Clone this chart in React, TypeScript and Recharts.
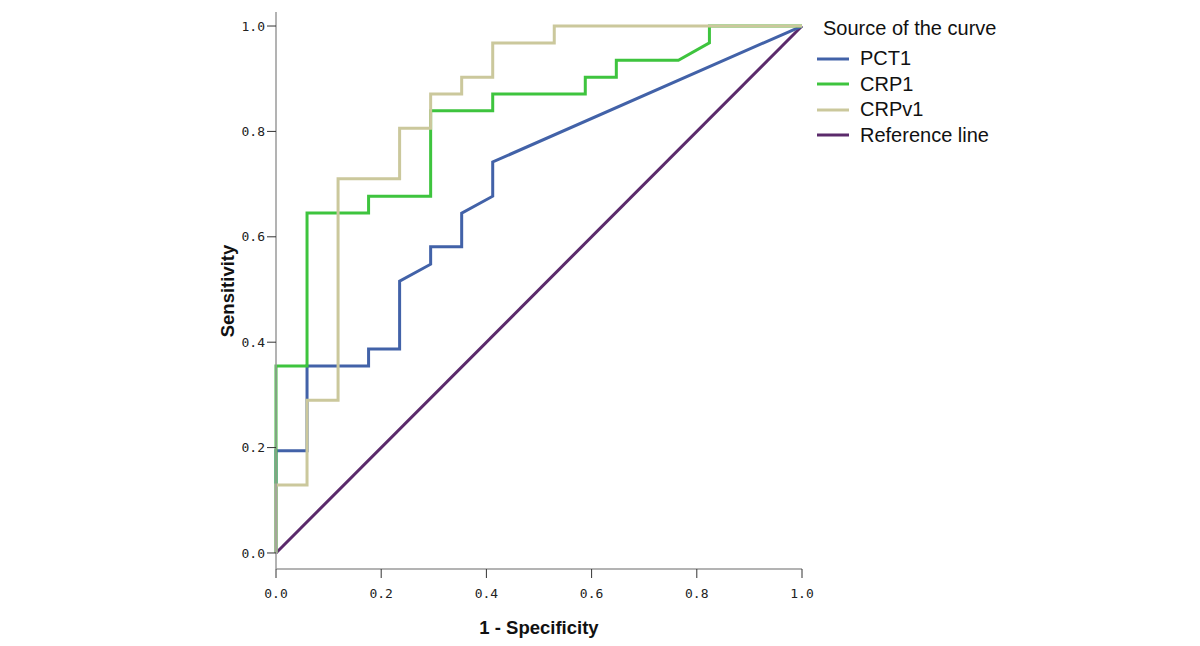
import { LineChart, Line, XAxis, YAxis, Legend, Label } from 'recharts';

// 1 - specificity / sensitivity pairs
const pctFpr = [0, 0, 0.059, 0.059, 0.176, 0.176, 0.235, 0.235, 0.294, 0.294, 0.353, 0.353, 0.412, 0.412, 1];
const pctTpr = [0, 0.194, 0.194, 0.355, 0.355, 0.387, 0.387, 0.516, 0.548, 0.581, 0.581, 0.645, 0.677, 0.742, 1];

const crpFpr = [0, 0, 0.059, 0.059, 0.176, 0.176, 0.294, 0.294, 0.412, 0.412, 0.588, 0.588, 0.647, 0.647, 0.765, 0.824, 0.824, 1];
const crpTpr = [0, 0.355, 0.355, 0.645, 0.645, 0.677, 0.677, 0.839, 0.839, 0.871, 0.871, 0.903, 0.903, 0.935, 0.935, 0.968, 1, 1];

const crpvFpr = [0, 0, 0.059, 0.059, 0.118, 0.118, 0.235, 0.235, 0.294, 0.294, 0.353, 0.353, 0.412, 0.412, 0.529, 0.529, 1];
const crpvTpr = [0, 0.129, 0.129, 0.29, 0.29, 0.71, 0.71, 0.806, 0.806, 0.871, 0.871, 0.903, 0.903, 0.968, 0.968, 1, 1];

const refFpr = [0, 1];
const refTpr = [0, 1];

const TICKS = [0, 0.2, 0.4, 0.6, 0.8, 1.0];

const SERIES = [
  { name: 'PCT1', color: '#4262a8' },
  { name: 'CRP1', color: '#3ec43e' },
  { name: 'CRPv1', color: '#cbc89c' },
  { name: 'Reference line', color: '#5b2a6b' },
];

const toPoints = (xs: number[], ys: number[]) => xs.map((x, i) => ({ x, y: ys[i] }));

const pctData = toPoints(pctFpr, pctTpr);
const crpData = toPoints(crpFpr, crpTpr);
const crpvData = toPoints(crpvFpr, crpvTpr);
const refData = toPoints(refFpr, refTpr);

const tickFont = { fontFamily: 'DejaVu Sans Mono', fontSize: 13, fill: '#222' };
const labelFont = { fontFamily: 'Liberation Sans, Arial, sans-serif', fontWeight: 'bold', fontSize: 18.5, fill: '#111' };

const LegendBox = () => (
  <div style={{ fontFamily: 'Liberation Sans, Arial, sans-serif', color: '#111', textAlign: 'left' }}>
    <div style={{ fontSize: 20, lineHeight: '24px', marginLeft: 6, marginBottom: 6 }}>Source of the curve</div>
    {SERIES.map((s) => (
      <div key={s.name} style={{ display: 'flex', alignItems: 'center', height: 25.5, fontSize: 20 }}>
        <svg width={32} height={6} style={{ marginRight: 11 }}>
          <line x1={0} y1={3} x2={32} y2={3} stroke={s.color} strokeWidth={3} />
        </svg>
        <span>{s.name}</span>
      </div>
    ))}
  </div>
);

export default function App() {
  return (
    <div style={{ position: 'absolute', left: 0, top: 0, width: 1200, height: 646, background: '#fff' }}>
      <LineChart width={1200} height={646} margin={{ top: 12, right: 398, bottom: 47, left: 216 }}>
        <XAxis
          dataKey="x"
          type="number"
          domain={[0, 1]}
          ticks={TICKS}
          tickFormatter={(v: number) => v.toFixed(1)}
          height={30}
          axisLine={{ stroke: '#9a9a9a', strokeWidth: 1.5 }}
          tickLine={{ stroke: '#333' }}
          tickSize={9}
          tickMargin={11}
          tick={tickFont}
        >
          <Label
            content={({ viewBox }: any) => (
              <text x={viewBox.x + viewBox.width / 2} y={viewBox.y + 65} textAnchor="middle" style={labelFont}>
                1 - Specificity
              </text>
            )}
          />
        </XAxis>
        <YAxis
          dataKey="y"
          type="number"
          domain={[-0.0304, 1.0266]}
          ticks={TICKS}
          tickFormatter={(v: number) => v.toFixed(1)}
          width={60}
          axisLine={{ stroke: '#9a9a9a', strokeWidth: 1.5 }}
          tickLine={{ stroke: '#333' }}
          tickSize={9}
          tickMargin={2}
          tick={tickFont}
        >
          <Label
            content={({ viewBox }: any) => (
              <text
                x={viewBox.x + 18}
                y={291}
                textAnchor="middle"
                transform={`rotate(-90, ${viewBox.x + 18}, 291)`}
                style={labelFont}
              >
                Sensitivity
              </text>
            )}
          />
        </YAxis>
        <Legend
          layout="horizontal"
          align="center"
          verticalAlign="middle"
          content={() => <LegendBox />}
          wrapperStyle={{ position: 'absolute', left: 817, top: 16, width: 260, height: 136 }}
        />
        <Line data={refData} dataKey="y" name="Reference line" stroke="#5b2a6b" strokeWidth={3} dot={false} isAnimationActive={false} type="linear" />
        <Line data={pctData} dataKey="y" name="PCT1" stroke="#4262a8" strokeWidth={3} dot={false} isAnimationActive={false} type="linear" />
        <Line data={crpData} dataKey="y" name="CRP1" stroke="#3ec43e" strokeWidth={3} dot={false} isAnimationActive={false} type="linear" />
        <Line data={crpvData} dataKey="y" name="CRPv1" stroke="#cbc89c" strokeWidth={3} dot={false} isAnimationActive={false} type="linear" />
      </LineChart>
    </div>
  );
}
